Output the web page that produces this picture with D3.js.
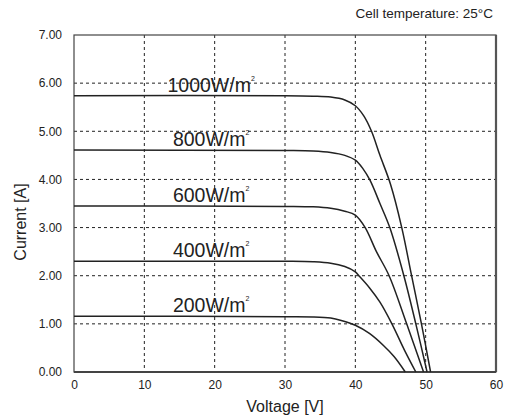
<!DOCTYPE html>
<html>
<head>
<meta charset="utf-8">
<script src="https://cdn.jsdelivr.net/npm/d3@7"></script>
<style>
  body { margin: 0; background: #fff; }
  text { font-family: "Liberation Sans", Arial, sans-serif; fill: #222; }
</style>
</head>
<body>
<div id="my_dataviz"></div>
<script>
// irradiance labels, top to bottom
const irradiance = ["1000", "800", "600", "400", "200"];

// I-V curves: [voltage V, current A]
const curve1000 = [[0,5.74],[30,5.74],[34,5.73],[36.5,5.71],[38.5,5.65],[40,5.53],[41.2,5.32],[42.3,5.0],[43.5,4.5],[45,3.9],[46.6,3.0],[48,2.0],[49.4,1.0],[50.7,0]];
const curve800  = [[0,4.61],[30,4.60],[34,4.59],[36.5,4.56],[38.5,4.50],[40,4.40],[41.1,4.22],[42.1,3.98],[43.5,3.5],[44.9,3.0],[46.9,2.0],[48.6,1.0],[50.2,0]];
const curve600  = [[0,3.45],[30,3.44],[34,3.43],[36.5,3.40],[38.5,3.34],[40,3.26],[41.4,3.0],[43,2.5],[44.8,2.0],[47.3,1.0],[49.7,0]];
const curve400  = [[0,2.30],[30,2.30],[34,2.29],[36.5,2.26],[38.5,2.19],[40,2.08],[40.5,2.0],[42,1.75],[43.5,1.45],[45.2,1.0],[47,0.45],[48.6,0]];
const curve200  = [[0,1.16],[30,1.15],[34,1.145],[36.5,1.12],[38,1.07],[40,0.97],[42,0.8],[44,0.55],[45.5,0.32],[47.1,0]];
const curves = [curve1000, curve800, curve600, curve400, curve200];

// label anchor in data coords (centre voltage, current)
const labelV = [19.5, 19.5, 19.5, 19.5, 19.5];
const labelI = [5.74, 4.61, 3.45, 2.30, 1.16];

const xTicks = [0, 10, 20, 30, 40, 50, 60];
const yTicks = [0, 1, 2, 3, 4, 5, 6, 7];

const margin = {top: 35, right: 9, bottom: 46, left: 74},
  width = 505 - margin.left - margin.right,
  height = 418 - margin.top - margin.bottom;

const svg0 = d3.select("#my_dataviz")
  .append("svg")
  .attr("width", 505)
  .attr("height", 418);

const svg = svg0.append("g")
  .attr("transform", `translate(${margin.left},${margin.top})`);

const x = d3.scaleLinear().domain([0, 60]).range([0, width]);
const y = d3.scaleLinear().domain([0, 7]).range([height, 0]);

// grid
svg.append("g")
  .selectAll("line")
  .data(yTicks.slice(1, -1))
  .join("line")
  .attr("x1", 0).attr("x2", width)
  .attr("y1", d => y(d)).attr("y2", d => y(d))
  .attr("stroke", "#222").attr("stroke-dasharray", "3,3");
svg.append("g")
  .selectAll("line")
  .data(xTicks.slice(1, -1))
  .join("line")
  .attr("y1", 0).attr("y2", height)
  .attr("x1", d => x(d)).attr("x2", d => x(d))
  .attr("stroke", "#222").attr("stroke-dasharray", "3,3");

// frame
svg.append("rect")
  .attr("x", 0).attr("y", 0)
  .attr("width", width).attr("height", height)
  .attr("fill", "none").attr("stroke", "#444").attr("stroke-width", 1.2);
svg.append("line")
  .attr("x1", width).attr("x2", width).attr("y1", 0).attr("y2", height)
  .attr("stroke", "#555").attr("stroke-width", 2.2);
svg.append("line")
  .attr("x1", 0).attr("x2", width).attr("y1", height).attr("y2", height)
  .attr("stroke", "#444").attr("stroke-width", 2);

// axes (labels only)
const xAxis = svg.append("g")
  .attr("transform", `translate(0, ${height})`)
  .call(d3.axisBottom(x).tickValues(xTicks).tickSize(0).tickPadding(8));
xAxis.select(".domain").remove();
xAxis.selectAll("text").style("font-size", "12px").attr("fill", "#222");

const yAxis = svg.append("g")
  .call(d3.axisLeft(y).tickValues(yTicks).tickFormat(d3.format(".2f")).tickSize(0).tickPadding(12));
yAxis.select(".domain").remove();
yAxis.selectAll("text").style("font-size", "12px").attr("fill", "#222");

// curves
const line = d3.line()
  .x(d => x(d[0]))
  .y(d => y(d[1]))
  .curve(d3.curveCatmullRom.alpha(0.5));

svg.append("g")
  .selectAll("path")
  .data(curves)
  .join("path")
  .attr("d", line)
  .attr("fill", "none")
  .attr("stroke", "#222")
  .attr("stroke-width", 1.5);

// irradiance labels
const lab = svg.append("g")
  .selectAll("text")
  .data(irradiance)
  .join("text")
  .attr("x", (d, i) => x(labelV[i]))
  .attr("y", (d, i) => y(labelI[i]) - 4)
  .attr("text-anchor", "middle")
  .style("font-size", "19.5px");
lab.append("tspan").text(d => d + "W/m");
lab.append("tspan").text("2").attr("dy", -11).style("font-size", "7px");

// axis titles
svg0.append("text")
  .attr("x", margin.left + width / 2)
  .attr("y", 412)
  .attr("text-anchor", "middle")
  .style("font-size", "16px")
  .text("Voltage [V]");

svg0.append("text")
  .attr("transform", "translate(26,222) rotate(-90)")
  .attr("text-anchor", "middle")
  .style("font-size", "16px")
  .text("Current [A]");

svg0.append("text")
  .attr("x", 493)
  .attr("y", 18)
  .attr("text-anchor", "end")
  .style("font-size", "13.5px")
  .text("Cell temperature: 25°C");
</script>
</body>
</html>
